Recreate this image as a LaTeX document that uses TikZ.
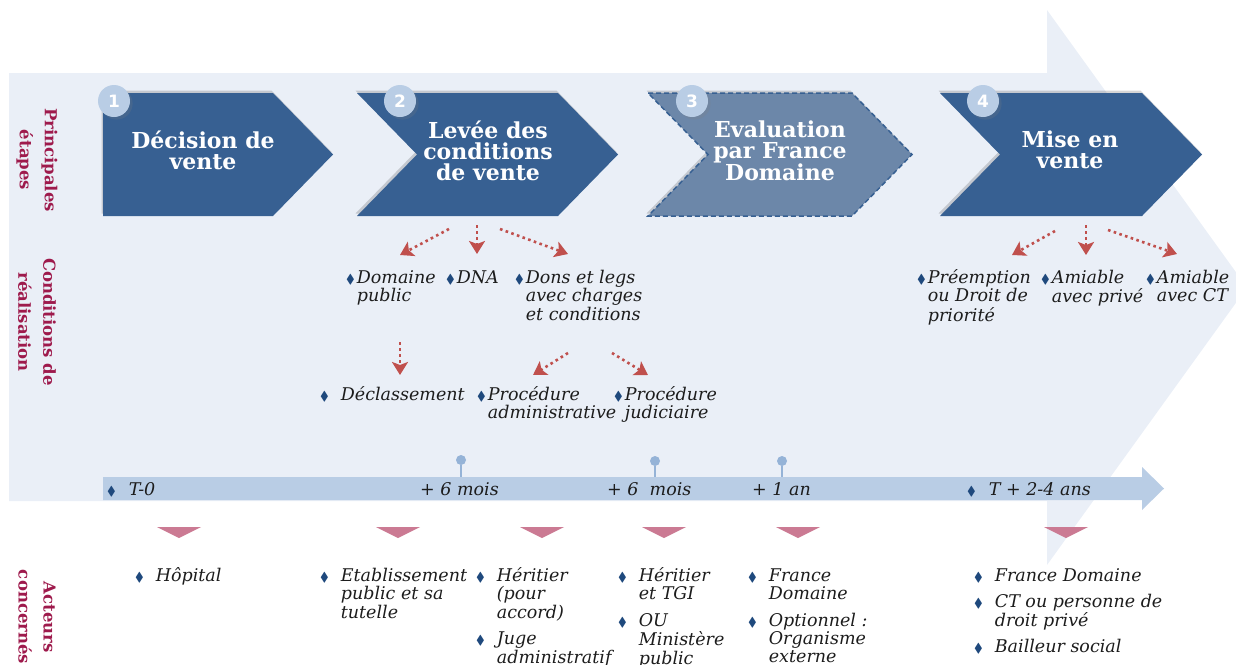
\documentclass[tikz,border=0pt]{standalone}
\usepackage{fontspec}
\usepackage{amssymb}
\setmainfont{DejaVu Serif}
\newfontfamily\chiffre{DejaVu Sans}
\usepackage{tikz}
\usetikzlibrary{positioning, arrows.meta, shadows}
\definecolor{fondClair}{HTML}{EAEFF7}
\definecolor{bleuEtape}{HTML}{376092}
\definecolor{bleuEval}{HTML}{6C87A9}
\definecolor{bleuPastille}{HTML}{B9CDE5}
\definecolor{bleuFrise}{HTML}{B9CDE5}
\definecolor{bleuJalon}{HTML}{95B3D7}
\definecolor{bleuPuce}{HTML}{1F497D}
\definecolor{rougeFleche}{HTML}{C0504D}
\definecolor{roseActeur}{HTML}{CB7A93}
\definecolor{bordeaux}{HTML}{9E1A4C}
\definecolor{texteFonce}{HTML}{1C1C1C}
\newcommand{\puce}{{\fontsize{13}{13}\selectfont\color{bleuPuce}$\blacklozenge$}}
\newcommand{\elem}[2][2pt]{\begin{tabular}[t]{@{}l@{\hspace{#1}}l@{}}\puce & \begin{tabular}[t]{@{}l@{}}#2\end{tabular}\end{tabular}}
\tikzset{
  font=\fontsize{17.5}{18.5}\selectfont,
  rubrique/.style={rotate=-90, align=center, text=bordeaux, font=\fontsize{16.5}{25}\selectfont\bfseries},
  titre/.style={align=center, text=white, font=\fontsize{22}{21}\selectfont\bfseries},
  pastille/.style={circle, fill=bleuPastille, minimum size=32pt, inner sep=0pt, text=white,
    font=\chiffre\fontsize{17}{17}\selectfont\bfseries, drop shadow={opacity=.2}},
  cond/.style={anchor=base west, inner sep=0pt, text=texteFonce, font=\fontsize{17.5}{18.5}\selectfont\itshape},
  acteur/.style={anchor=base west, inner sep=0pt, text=texteFonce, font=\fontsize{17.5}{18}\selectfont\itshape},
  delai/.style={anchor=base west, inner sep=0pt, text=texteFonce, font=\fontsize{17.5}{17.5}\selectfont\itshape},
  jalonpt/.style={circle, fill=bleuJalon, minimum size=10pt, inner sep=0pt},
  pointille/.style={rougeFleche, line width=2.6pt, dash pattern=on 2.6pt off 3.4pt,
    -{Stealth[length=13pt, width=16pt, inset=3pt]}},
  ombre/.style={general shadow={shadow xshift=-1.5pt, shadow yshift=2.5pt, fill=black, opacity=.16}}
}

\begin{document}
\begin{tikzpicture}[x=1pt, y=-1pt]
  \useasboundingbox (0,0) rectangle (1236,664);
  % fond
  \fill[fondClair] (9,73) -- (1047,73) -- (1047,10) -- (1247,287.5) -- (1047,565) -- (1047,501) -- (9,501) -- cycle;

  % rubriques
  \node[rubrique] (rubEtapes) at (37,160) {Principales\\étapes};
  \node[rubrique] (rubCond) at (37,322) {Conditions de\\réalisation};
  \node[rubrique] (rubActeurs) at (37,617) {Acteurs\\concernés};

  % etapes
  \fill[bleuEtape, ombre] (103,93) -- (273,93) -- (333,154.5) -- (273,216) -- (103,216) -- cycle;
  \fill[bleuEtape, ombre] (357,93) -- (558,93) -- (618,154.5) -- (558,216) -- (357,216) -- (417,154.5) -- cycle;
  \filldraw[fill=bleuEval, draw=bleuEtape, line width=1.5pt, dash pattern=on 5pt off 3pt, ombre]
    (648,93) -- (852,93) -- (912,154.5) -- (852,216) -- (648,216) -- (708,154.5) -- cycle;
  \fill[bleuEtape, ombre] (940,93) -- (1142,93) -- (1202,154.5) -- (1142,216) -- (940,216) -- (1000,154.5) -- cycle;

  \node[titre] (etape1) at (203,150) {Décision de\\vente};
  \node[titre] (etape2) at (488,151) {Levée des\\conditions\\de vente};
  \node[titre] (etape3) at (780,151) {Evaluation\\par France\\Domaine};
  \node[titre] (etape4) at (1070,150) {Mise en\\vente};

  \node[pastille] (num1) at (114,101) {1};
  \node[pastille] (num2) at (400,101) {2};
  \node[pastille] (num3) at (692,101) {3};
  \node[pastille] (num4) at (983,101) {4};

  % conditions de realisation
  \node[cond] (dompub) at (346,283) {\elem{Domaine\\public}};
  \node[cond] (dna) at (446,283) {\elem{DNA}};
  \node[cond] (dons) at (515,283) {\elem{Dons et legs\\avec charges\\et conditions}};
  \node[cond] (declass) at (320,400) {\elem[12pt]{Déclassement}};
  \node[cond] (procadm) at (477,400) {\elem{Procédure\\administrative}};
  \node[cond] (procjud) at (614,400) {\elem{Procédure\\judiciaire}};
  \node[cond] (preempt) at (917,283) {\elem{Préemption\\ou Droit de\\priorité}};
  \node[cond] (amipriv) at (1041,283) {\elem{Amiable\\avec privé}};
  \node[cond] (amict) at (1146,283) {\elem{Amiable\\avec CT}};

  \coordinate (d2a) at (449,229); \coordinate (f2a) at (400,255);
  \coordinate (d2b) at (477,225); \coordinate (f2b) at (477,254);
  \coordinate (d2c) at (500,229); \coordinate (f2c) at (568,254);
  \coordinate (dDp) at (400,342); \coordinate (fDp) at (400,375);
  \coordinate (dDa) at (568,353); \coordinate (fDa) at (533,375);
  \coordinate (dDb) at (612,353); \coordinate (fDb) at (648,375);
  \coordinate (d4a) at (1055,231); \coordinate (f4a) at (1012,255);
  \coordinate (d4b) at (1086,225); \coordinate (f4b) at (1086,255);
  \coordinate (d4c) at (1108,230); \coordinate (f4c) at (1177,254);
  \foreach \n in {2a,2b,2c,Dp,Da,Db,4a,4b,4c}
    \draw[pointille] (d\n) -- (f\n);

  % frise
  \fill[bleuFrise] (103,477) -- (1142,477) -- (1142,467) -- (1164,488.5) -- (1142,510) -- (1142,500) -- (103,500) -- cycle;
  \node[jalonpt] (jalon1) at (461,460) {};
  \node[jalonpt] (jalon2) at (655,461) {};
  \node[jalonpt] (jalon3) at (782,461) {};
  \foreach \j in {jalon1,jalon2,jalon3}
    \draw[bleuJalon, line width=1.2pt] (\j) -- (\j |- 0,477);

  \node[delai] (t0) at (107,495) {\elem[13pt]{T-0}};
  \node[delai] (mois1) at (420,495) {+ 6 mois};
  \node[delai] (mois2) at (607,495) {+ 6~~mois};
  \node[delai] (an1) at (752,495) {+ 1 an};
  \node[delai] (tfin) at (967,495) {\elem[13pt]{T + 2-4 ans}};

  % acteurs
  \foreach \x in {179,398,542,664,798,1066}
    \fill[roseActeur] (\x-22,527) -- (\x+22,527) -- (\x,538) -- cycle;

  \node[acteur] (hopital) at (135,581) {\elem[12pt]{Hôpital}};
  \node[acteur] (etab) at (320,581) {\elem[12pt]{Etablissement\\public et sa\\tutelle}};
  \node[acteur] (heritier) at (476,581) {\elem[12pt]{Héritier\\(pour\\accord)}};
  \node[acteur, below=8pt of heritier.south west, anchor=north west] (juge) {\elem[12pt]{Juge\\administratif}};
  \node[acteur] (heritgi) at (618,581) {\elem[12pt]{Héritier\\et TGI}};
  \node[acteur, below=8pt of heritgi.south west, anchor=north west] (ministere) {\elem[12pt]{OU\\Ministère\\public}};
  \node[acteur] (france) at (748,581) {\elem[12pt]{France\\Domaine}};
  \node[acteur, below=8pt of france.south west, anchor=north west] (option) {\elem[12pt]{Optionnel :\\Organisme\\externe}};
  \node[acteur] (francebis) at (974,581) {\elem[12pt]{France Domaine}};
  \node[acteur, below=7pt of francebis.south west, anchor=north west] (ctprive) {\elem[12pt]{CT ou personne de\\droit privé}};
  \node[acteur, below=7pt of ctprive.south west, anchor=north west] (bailleur) {\elem[12pt]{Bailleur social}};
\end{tikzpicture}
\end{document}
